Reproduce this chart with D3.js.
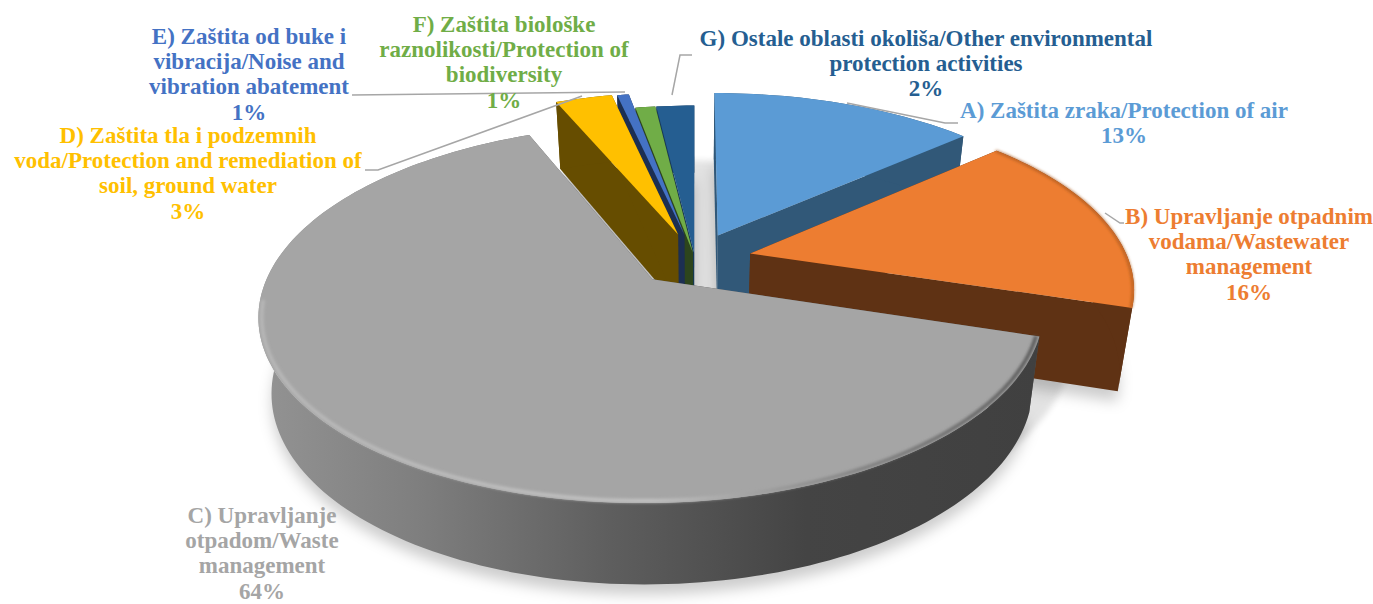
<!DOCTYPE html>
<html lang="en">
<head>
<meta charset="UTF-8">
<title>3D pie</title>
<script src="https://d3js.org/d3.v7.min.js"></script>
<style>
  html, body { margin: 0; background: #fff; }
  svg { display: block; }
  text { font-family: "Liberation Serif", serif; font-weight: bold; font-size: 23px; text-anchor: middle; }
</style>
</head>
<body>
<div id="chart"></div>
<script>
// data, clockwise from 12 o'clock
const categories = ["A", "B", "C", "D", "E", "F", "G"];
const shares = [13.49, 16.3, 63.81, 2.9, 0.6, 1.0, 1.9];
const explode = [0.15, 0.15, 0.165, 0.15, 0.145, 0.035, 0.035];
const lift = [0, 0, 0.01, 0, 0, 0, 0];
const thickness = [1, 1.1, 1, 1, 1, 1, 1];
const topColors = ["#5b9bd5", "#ed7d31", "#a5a5a5", "#ffc000", "#4472c4", "#70ad47", "#255e91"];
const wallColors = ["#315878", "#5f3214", "url(#wallC)", "#664d00", "#1c2f52", "#2d451c", "#17395a"];
const labelLines = [
  ["A) Zaštita zraka/Protection of air", "13%"],
  ["B) Upravljanje otpadnim", "vodama/Wastewater", "management", "16%"],
  ["C) Upravljanje", "otpadom/Waste", "management", "64%"],
  ["D) Zaštita tla i podzemnih", "voda/Protection and remediation of", "soil, ground water", "3%"],
  ["E) Zaštita od buke i", "vibracija/Noise and", "vibration abatement", "1%"],
  ["F) Zaštita biološke", "raznolikosti/Protection of", "biodiversity", "1%"],
  ["G) Ostale oblasti okoliša/Other environmental", "protection activities", "2%"]
];
const labelX = [1124, 1249, 262, 188, 249, 504, 926];
const labelY = [118, 224, 523, 143, 44, 32, 46];
const labelStep = 25.2;
const leaders = [
  [[847, 103], [945, 123], [958, 123]],
  [[1105, 213], [1120, 223], [1124, 223]],
  null,
  [[582, 96], [378, 170], [365, 170]],
  [[625, 92], [352, 95]],
  null,
  [[672, 95], [680, 55], [692, 55]]
];
const order = [6, 5, 4, 3, 0, 1, 2]; // back to front

const width = 1373, height = 604;
const cx = 695, cy = 259;
const R = 378, Ry = 175.7, persp = 0.179, depth = 74;

const svg = d3.select("#chart").append("svg").attr("width", width).attr("height", height);
const defs = svg.append("defs");

function gradient(id, stops, x1, x2) {
  const g = defs.append("linearGradient").attr("id", id)
    .attr("gradientUnits", "userSpaceOnUse")
    .attr("x1", x1).attr("x2", x2).attr("y1", 0).attr("y2", 0);
  stops.forEach(s => g.append("stop").attr("offset", s[0]).attr("stop-color", s[1]));
}
gradient("wallC", [[0, "#939393"], [0.2, "#7f7f7f"], [0.45, "#5e5e5e"], [0.7, "#444"], [1, "#404040"]], 260, 1040);
gradient("rimC", [[0, "#b8b8b8"], [0.5, "#c4c4c4"], [0.72, "#8a8a8a"], [1, "#555"]], 260, 1040);
defs.append("filter").attr("id", "blurS").attr("x", "-20%").attr("y", "-20%").attr("width", "140%").attr("height", "140%")
  .append("feGaussianBlur").attr("stdDeviation", 7);
defs.append("filter").attr("id", "blurG").attr("x", "-5%").attr("y", "-5%").attr("width", "110%").attr("height", "110%")
  .append("feGaussianBlur").attr("stdDeviation", 3);
defs.append("filter").attr("id", "blurR").attr("x", "-5%").attr("y", "-5%").attr("width", "110%").attr("height", "110%")
  .append("feGaussianBlur").attr("stdDeviation", 1.4);

const pie = d3.pie().sort(null).value(d => d);
const arcs = pie(shares);

// world (unit disc) to screen, z runs 0 (top face) .. 1 (bottom face)
function project(X, Y, z) {
  const s = 1 / (1 + persp * Y);
  const shrink = 1 - 0.03 * z;
  return [
    cx + R * X * s * shrink,
    cy - Ry * Y * s + z * depth * (1 - 0.09 * Y)
  ];
}

const line = d3.line();

function slicePoint(a, angle, r, z) {
  const mid = (a.startAngle + a.endAngle) / 2;
  const e = explode[a.index] || 0;
  const up = lift[a.index] || 0;
  return project(e * Math.sin(mid) + r * Math.sin(angle), e * Math.cos(mid) + up + r * Math.cos(angle), z * (thickness[a.index] || 1));
}
function rimPoints(a, r, z, end) {
  const stop = end === undefined ? a.endAngle : end;
  const n = Math.max(4, Math.ceil((stop - a.startAngle) * 40));
  const t = d3.scaleLinear().domain([0, n]).range([a.startAngle, stop]);
  return d3.range(n + 1).map(i => slicePoint(a, t(i), r, z));
}
function facePath(a, z) {
  return line([slicePoint(a, 0, 0, z)].concat(rimPoints(a, 1, z))) + "Z";
}
function radialWall(a, angle) {
  return line([slicePoint(a, 0, 0, 0), slicePoint(a, angle, 1, 0), slicePoint(a, angle, 1, 1), slicePoint(a, 0, 0, 1)]) + "Z";
}
function rimWall(a) {
  return line(rimPoints(a, 1, 0).concat(rimPoints(a, 1, 1).reverse())) + "Z";
}

// soft shadow under the whole pie
svg.append("g").attr("filter", "url(#blurS)").attr("transform", "translate(0,6)")
  .selectAll("path").data(arcs).join("path")
  .attr("d", d => facePath(d, 1.05))
  .attr("fill", "#000").attr("opacity", 0.2);
// grey seen through the gap between G and A
svg.append("path").attr("d", facePath({ index: -1, startAngle: 0, endAngle: 2 * Math.PI }, 0.75))
  .attr("fill", "#000").attr("opacity", 0.11).attr("filter", "url(#blurG)");

const slices = svg.append("g").selectAll("g").data(order.map(i => arcs[i])).join("g");

slices.each(function (a) {
  const g = d3.select(this);
  const wall = wallColors[a.index];
  const solid = a.index === 2 ? "#555" : wall;
  g.append("path").attr("d", radialWall(a, a.startAngle)).attr("fill", solid);
  g.append("path").attr("d", radialWall(a, a.endAngle)).attr("fill", solid);
  g.append("path").attr("d", rimWall(a)).attr("fill", wall);
  g.append("path").attr("d", facePath(a, 0)).attr("fill", topColors[a.index]);
  // bevel only shows on the two big front slices
  if (a.index === 2) {
    g.append("path").attr("d", line(rimPoints(a, 0.992, 0, 4.6)))
      .attr("fill", "none").attr("stroke", "url(#rimC)")
      .attr("stroke-width", 3.5).attr("filter", "url(#blurR)");
  }
  if (a.index === 1) {
    g.append("path").attr("d", line(rimPoints(a, 0.997, 0)))
      .attr("fill", "none").attr("stroke", "#a8571f")
      .attr("stroke-width", 2).attr("filter", "url(#blurR)");
  }
});

// leader lines
svg.append("g").selectAll("path").data(leaders.filter(d => d)).join("path")
  .attr("d", d => line(d))
  .attr("fill", "none").attr("stroke", "#a6a6a6").attr("stroke-width", 1.5);

// labels
const labels = svg.append("g").selectAll("text").data(categories).join("text")
  .attr("fill", (d, i) => topColors[i])
  .attr("x", (d, i) => labelX[i]);
labels.selectAll("tspan").data((d, i) => labelLines[i].map(t => [t, i])).join("tspan")
  .attr("x", d => labelX[d[1]])
  .attr("y", (d, j) => labelY[d[1]] + j * labelStep)
  .text(d => d[0]);
</script>
</body>
</html>
